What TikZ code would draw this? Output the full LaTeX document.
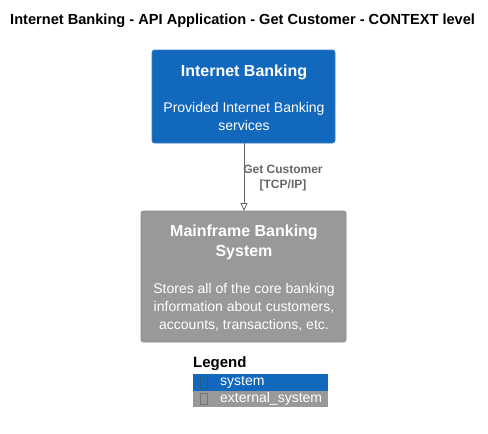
\documentclass[tikz,border=0pt]{standalone}
\usepackage{fontspec}
\setmainfont{Liberation Sans}
\usetikzlibrary{arrows.meta}
\definecolor{sysblue}{HTML}{1168BD}
\definecolor{sysblueb}{HTML}{3C7FC0}
\definecolor{extgray}{HTML}{999999}
\definecolor{extgrayb}{HTML}{8A8A8A}
\definecolor{lblgray}{HTML}{666666}
\tikzset{
  x=1pt, y=-1pt,
  sysbox/.style={draw=sysblueb, fill=sysblue, rounded corners=2.5pt, line width=0.8pt},
  extbox/.style={draw=extgrayb, fill=extgray, rounded corners=2.5pt, line width=0.8pt},
  ttl/.style={text=white, font=\bfseries\fontsize{16}{20}\selectfont, align=center, inner sep=0},
  dsc/.style={text=white, font=\fontsize{14}{18}\selectfont, align=center, inner sep=0},
  rel/.style={draw=lblgray, line width=0.8pt, -{Triangle[open, length=8pt, width=7pt]}},
  rellbl/.style={text=lblgray, font=\bfseries\fontsize{12}{15}\selectfont, align=center, inner sep=0},
  leg/.style={text=white, font=\fontsize{14}{16}\selectfont, anchor=west, inner sep=0},
}
\begin{document}
\begin{tikzpicture}
\useasboundingbox (0,0) rectangle (488,434);
\node[anchor=west, inner sep=0, font=\bfseries\fontsize{14.6}{17}\selectfont] (title) at (10,21) {Internet Banking - API Application - Get Customer - CONTEXT level};

\path[sysbox] (152,50) rectangle (335,143);
\coordinate (ibtop) at (244,50);
\coordinate (ibbot) at (244,143);
\node[ttl] (ibt) at (244,72) {Internet Banking};
\node[dsc] (ibd) at (244,116) {Provided Internet Banking\\services};

\path[extbox] (141,211) rectangle (346,342);
\coordinate (mbtop) at (244,211);
\node[ttl] (mbt) at (244,242) {Mainframe Banking\\System};
\node[dsc] (mbd) at (244,307) {Stores all of the core banking\\information about customers,\\accounts, transactions, etc.};

\draw[rel] (ibbot) -- (mbtop);
\node[rellbl] (lbl) at (283,178) {Get Customer\\{[TCP/IP]}};

\node[anchor=west, inner sep=0, font=\bfseries\fontsize{15}{17}\selectfont] (legt) at (193,364) {Legend};
\fill[sysblue] (193,374) rectangle (328,391);
\fill[extgray] (193,391) rectangle (328,407);
\draw[sysblueb!70!black, line width=0.5pt] (200,377) rectangle (207,388);
\draw[extgrayb!85!black, line width=0.5pt] (200,393.5) rectangle (207,404.5);
\node[leg] (l1) at (220,382.5) {system};
\node[leg] (l2) at (220,399) {external\_system};
\end{tikzpicture}
\end{document}
